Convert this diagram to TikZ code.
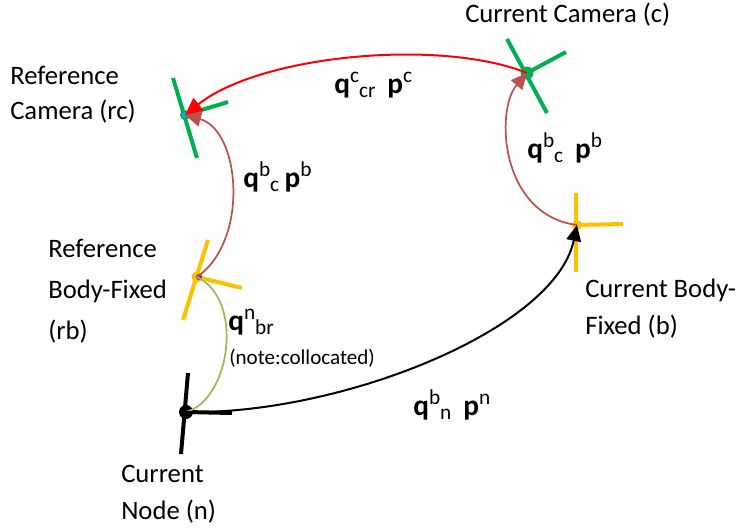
\documentclass[tikz,border=0pt]{standalone}
\usepackage{fontspec}
\setmainfont{Carlito}
\usetikzlibrary{arrows.meta}
\definecolor{camgreen}{HTML}{00B050}
\definecolor{bodyyellow}{HTML}{FFC000}
\definecolor{arrowred}{HTML}{FF0000}
\definecolor{brownred}{HTML}{C0504D}
\definecolor{olivegreen}{HTML}{9BBB59}
\definecolor{dotcyan}{HTML}{00B0F0}
\definecolor{dotpurple}{HTML}{7030A0}
\tikzset{
  lbl/.style={inner sep=0pt, align=left, anchor=base west},
  math/.style={inner sep=0pt, anchor=base west},
  note/.style={font=\fontsize{15.8}{18}\selectfont, inner sep=0pt, anchor=base west},
  axis/.style={line width=3pt},
  tip/.style={-{Triangle[length=12pt,width=11pt]}},
}
\newcommand{\qb}{{\fontsize{22}{22}\selectfont\textbf{q}}}
\newcommand{\pb}{{\fontsize{22}{22}\selectfont\textbf{p}}}
\newcommand{\sps}[1]{\raisebox{8pt}{\fontsize{16}{16}\selectfont #1}}
\newcommand{\sbs}[1]{\raisebox{-3pt}{\fontsize{16}{16}\selectfont #1}}
\begin{document}
\begin{tikzpicture}[x=0.75pt,y=-0.75pt]
\useasboundingbox (0,0) rectangle (751,529);
% frames
\coordinate (rc) at (185,115);
\coordinate (c) at (527,73);
\coordinate (rb) at (197,277);
\coordinate (b) at (577,225);
\coordinate (n) at (186,412);
% reference camera
\draw[axis,camgreen] (173,78) -- (197,158);
\draw[axis,camgreen] (rc) -- (228,102);
\fill[camgreen] (rc) circle (5);
\fill[dotcyan] (rc) circle (3);
% current camera
\draw[axis,camgreen] (507,39) -- (547,113);
\draw[axis,camgreen] (c) -- (566,52);
\fill[camgreen] (c) circle (6.5);
% reference body-fixed
\draw[axis,bodyyellow] (208,240) -- (183,320);
\draw[axis,bodyyellow] (rb) -- (242,288);
\fill[bodyyellow] (rb) circle (5.5);
\fill[dotpurple] (199,277) circle (3);
% current body-fixed
\draw[axis,bodyyellow] (576,193) -- (576,272);
\draw[axis,bodyyellow] (b) -- (623,224);
\fill[bodyyellow] (b) circle (5);
% current node
\draw[axis,black] (188,373) -- (181,454);
\draw[axis,black] (n) -- (232,413);
\fill[black] (n) circle (7);
% connectors
\draw[arrowred,line width=1.5pt,-{Triangle[length=13pt,width=12pt]}] (c) .. controls (440,38) and (260,55) .. (rc);
\draw[brownred,line width=1.3pt,tip] (rb) .. controls (250,240) and (240,130) .. (rc);
\draw[brownred,line width=1.3pt,tip] (b) .. controls (500,215) and (495,110) .. (c);
\draw[olivegreen,line width=1.3pt] (n) .. controls (230,400) and (245,300) .. (rb);
\draw[black,line width=1.5pt,tip] (n) .. controls (340,415) and (555,330) .. (b);
% labels
\node[lbl,font=\fontsize{20}{26}\selectfont] (lc) at (465,22) {Current Camera (c)};
\node[lbl,font=\fontsize{20}{26.25}\selectfont] (lrc) at (10,119) {Reference\\Camera (rc)};
\node[lbl,font=\fontsize{20}{30.75}\selectfont] (lrb) at (48,339) {Reference\\Body-Fixed\\(rb)};
\node[lbl,font=\fontsize{20}{27.75}\selectfont] (lb) at (585,334) {Current Body-\\Fixed (b)};
\node[lbl,font=\fontsize{20}{27.75}\selectfont] (ln) at (121,519) {Current\\Node (n)};
\node[math] (m1) at (334,93) {\qb\sps{c}\sbs{cr}\hspace{9pt}\pb\sps{c}};
\node[math] (m2) at (243,187) {\qb\sps{b}\sbs{c}\hspace{4pt}\pb\sps{b}};
\node[math] (m3) at (527,158) {\qb\sps{b}\sbs{c}\hspace{9pt}\pb\sps{b}};
\node[math] (m4) at (228,330) {\qb\sps{n}\sbs{br}};
\node[note] (nt) at (229,364) {(note:collocated)};
\node[math] (m5) at (413,415) {\qb\sps{b}\sbs{n}\hspace{9pt}\pb\sps{n}};
\end{tikzpicture}
\end{document}
